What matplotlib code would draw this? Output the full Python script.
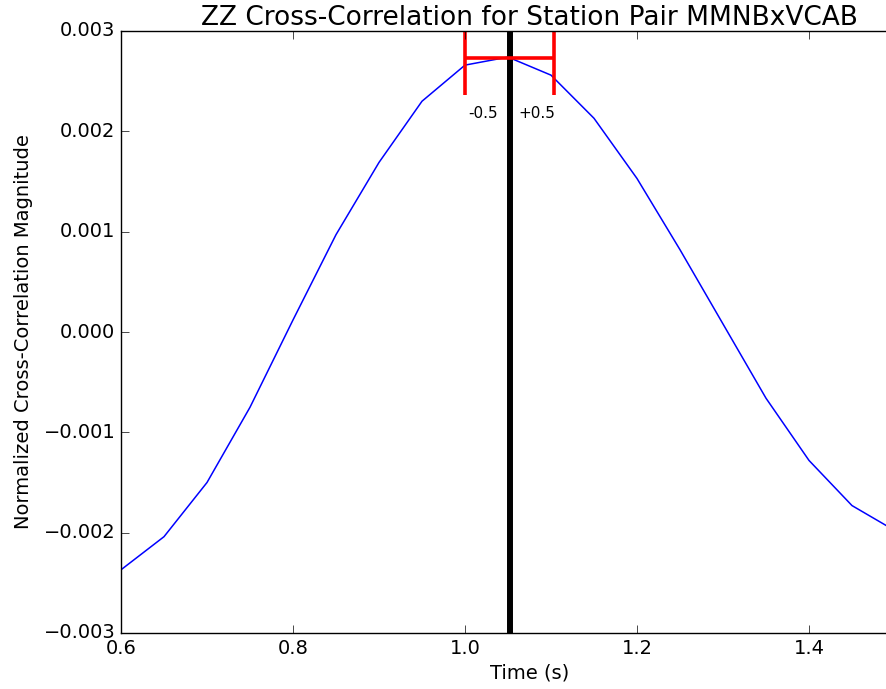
"""
ZZ cross-correlation trace for the MMNB x VCAB station pair, with the
picked peak time and its +/-0.5 window.
"""
import matplotlib
matplotlib.use("Agg")
import matplotlib.pyplot as plt
import matplotlib.ticker as mticker
import numpy as np

# ── Cross-correlation samples (every 0.05 s) ──
TIME_S = [0.60, 0.65, 0.70, 0.75, 0.80, 0.85, 0.90, 0.95, 1.00, 1.05,
          1.10, 1.15, 1.20, 1.25, 1.30, 1.35, 1.40, 1.45, 1.50]
XCORR = [-2.37e-3, -2.04e-3, -1.50e-3, -0.75e-3, 0.12e-3, 0.97e-3, 1.69e-3,
         2.30e-3, 2.66e-3, 2.74e-3, 2.56e-3, 2.13e-3, 1.53e-3, 0.82e-3,
         0.08e-3, -0.66e-3, -1.28e-3, -1.73e-3, -1.98e-3]

# Picked peak and window half-width
PEAK_T = 1.0520
PEAK_AMP = 2.73e-3
HALF_WIN = 0.0517
WIN_LABELS = ["-0.5", "+0.5"]

X_TICKS = [0.6, 0.8, 1.0, 1.2, 1.4]
Y_TICKS = [-0.003, -0.002, -0.001, 0.000, 0.001, 0.002, 0.003]

plt.style.use("classic")

fig = plt.figure(figsize=(8.86, 6.89), dpi=100, facecolor="white")
ax = fig.add_axes([121 / 886, 56 / 689, 817 / 886, 602 / 689])
ax.set_facecolor("white")

ax.plot(TIME_S, XCORR, color="b", linewidth=1.1)
ax.axvline(PEAK_T, color="k", linewidth=4.3)
ax.errorbar([PEAK_T], [PEAK_AMP], xerr=HALF_WIN, color="r", elinewidth=2.6,
            capsize=26.5, capthick=2.6, fmt="none")

ax.text(PEAK_T - 0.031, 2.18e-3, WIN_LABELS[0], ha="center", va="center",
        fontsize=11)
ax.text(PEAK_T + 0.031, 2.18e-3, WIN_LABELS[1], ha="center", va="center",
        fontsize=11)

ax.set_xlim(0.6, 1.55)
ax.set_ylim(-0.003, 0.003)
ax.set_xticks(X_TICKS)
ax.set_yticks(Y_TICKS)
ax.xaxis.set_major_formatter(mticker.FuncFormatter(lambda v, _: f"{v:.1f}"))
ax.yaxis.set_major_formatter(
    mticker.FuncFormatter(lambda v, _: f"{v:.3f}".replace("-", "\u2212")))
ax.tick_params(labelsize=14, direction="in", length=6)

ax.set_xlabel("Time (s)", fontsize=14, labelpad=4)
ax.set_ylabel("Normalized Cross-Correlation Magnitude", fontsize=14, labelpad=8)
ax.set_title("ZZ Cross-Correlation for Station Pair MMNBxVCAB", fontsize=19,
             pad=4)

fig.savefig("out.png", dpi=100, facecolor="white")
plt.close(fig)
